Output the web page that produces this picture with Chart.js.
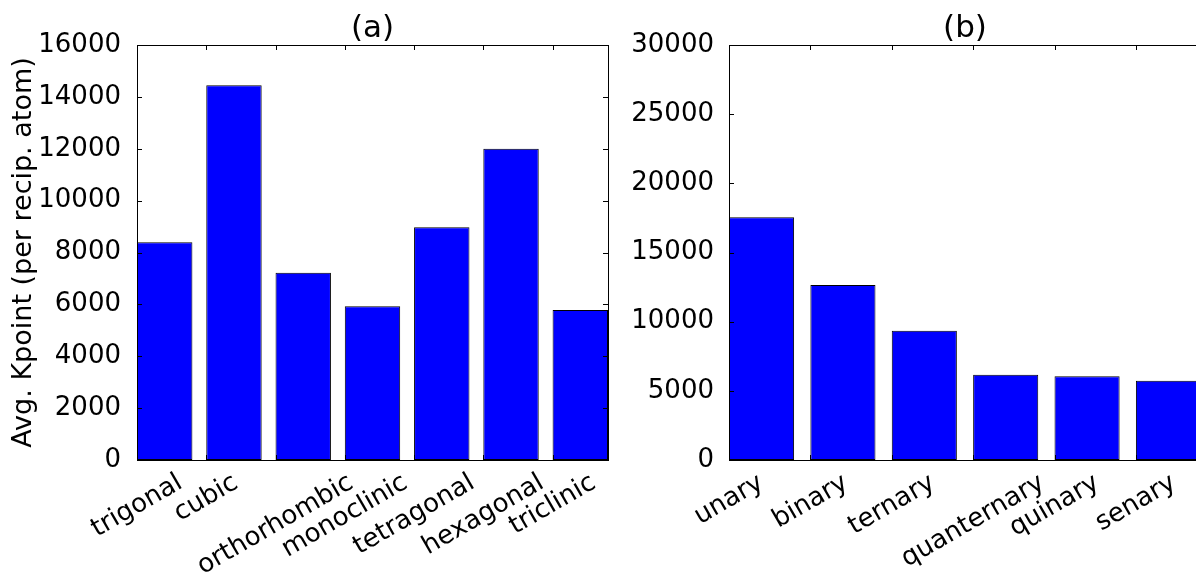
<!DOCTYPE html>
<html>
<head>
<meta charset="utf-8">
<script src="https://cdn.jsdelivr.net/npm/chart.js@4.4.1/dist/chart.umd.min.js"></script>
<style>
  html, body { margin: 0; padding: 0; background: #fff; overflow: hidden; }
  body { width: 1196px; height: 578px; position: relative; }
  canvas { position: absolute; top: 0; }
  #chartA { left: 0; }
  #chartB { left: 615px; }
</style>
</head>
<body>
<canvas id="chartA" width="615" height="578"></canvas>
<canvas id="chartB" width="600" height="578"></canvas>
<script>
// (a) by crystal system
const crystalSystems = ['trigonal', 'cubic', 'orthorhombic', 'monoclinic', 'tetragonal', 'hexagonal', 'triclinic'];
const crystalKpoints = [8400, 14450, 7220, 5930, 8970, 12000, 5780];
const crystalTicks = [0, 2000, 4000, 6000, 8000, 10000, 12000, 14000, 16000];

// (b) by number of components
const componentCounts = ['unary', 'binary', 'ternary', 'quanternary', 'quinary', 'senary'];
const componentKpoints = [17550, 12650, 9350, 6170, 6050, 5730];
const componentTicks = [0, 5000, 10000, 15000, 20000, 25000, 30000];

const FONT = 'DejaVu Sans';
const BAR_WIDTH = 0.8;
const TICK_LEN = 5;

// matplotlib look: closed frame, inward ticks on every side, x labels rotated 30deg and centred on the tick
const mplFrame = {
  id: 'mplFrame',
  afterDraw(chart, args, opts) {
    const { ctx, chartArea: a, scales: { x, y } } = chart;
    ctx.save();
    ctx.strokeStyle = '#000';
    ctx.lineWidth = 1;
    ctx.beginPath();
    opts.categories.forEach((c, i) => {
      const px = Math.round(x.getPixelForValue(i)) + 0.5;
      ctx.moveTo(px, a.top); ctx.lineTo(px, a.top + TICK_LEN);
      ctx.moveTo(px, a.bottom); ctx.lineTo(px, a.bottom - TICK_LEN);
    });
    y.ticks.forEach(t => {
      const py = Math.round(y.getPixelForValue(t.value)) + 0.5;
      ctx.moveTo(a.left, py); ctx.lineTo(a.left + TICK_LEN, py);
      ctx.moveTo(a.right, py); ctx.lineTo(a.right - TICK_LEN, py);
    });
    ctx.stroke();
    ctx.strokeRect(Math.round(a.left) + 0.5, Math.round(a.top) + 0.5,
      Math.round(a.right - a.left), Math.round(a.bottom - a.top));

    ctx.font = '26px "' + FONT + '"';
    ctx.fillStyle = '#000';
    ctx.textAlign = 'center';
    ctx.textBaseline = 'middle';
    const rot = Math.PI / 6;
    const lh = 26 * 1.164;
    opts.categories.forEach((c, i) => {
      const w = ctx.measureText(c).width;
      const boxH = w * Math.sin(rot) + lh * Math.cos(rot);
      ctx.save();
      ctx.translate(x.getPixelForValue(i), a.bottom + 8 + boxH / 2);
      ctx.rotate(-rot);
      ctx.fillText(c, 0, 0);
      ctx.restore();
    });
    ctx.restore();
  }
};

function makeChart(id, categories, values, yTicks, title, yTitle, yWidth, padRight, tickPad) {
  return new Chart(document.getElementById(id), {
    type: 'bar',
    data: {
      datasets: [{
        data: values.map((v, i) => ({ x: i + BAR_WIDTH / 2, y: v })),
        backgroundColor: '#0000ff',
        borderColor: '#000',
        borderWidth: 1,
        borderSkipped: false,
        barPercentage: BAR_WIDTH,
        categoryPercentage: 1
      }]
    },
    options: {
      responsive: false,
      animation: false,
      layout: { padding: { left: 0, right: padRight, top: 0, bottom: 118 } },
      plugins: {
        legend: { display: false },
        tooltip: { enabled: false },
        title: {
          display: true,
          text: title,
          fullSize: false,
          color: '#000',
          font: { family: FONT, size: 31, weight: 'normal', lineHeight: 1 },
          padding: { top: 13, bottom: 1 }
        },
        mplFrame: { categories }
      },
      scales: {
        x: {
          type: 'linear',
          display: false,
          offset: false,
          min: 0,
          max: categories.length - 1 + BAR_WIDTH,
          ticks: { stepSize: 1, includeBounds: false }
        },
        y: {
          min: yTicks[0],
          max: yTicks[yTicks.length - 1],
          afterFit: s => { s.width = yWidth; },
          afterBuildTicks: s => { s.ticks = yTicks.map(v => ({ value: v })); },
          grid: { display: false },
          border: { display: false },
          ticks: {
            color: '#000',
            padding: tickPad,
            font: { family: FONT, size: 26 },
            callback: v => String(v)
          },
          title: {
            display: !!yTitle,
            text: yTitle,
            color: '#000',
            font: { family: FONT, size: 27 },
            padding: { top: 8, bottom: 0 }
          }
        }
      }
    },
    plugins: [mplFrame]
  });
}

makeChart('chartA', crystalSystems, crystalKpoints, crystalTicks, '(a)', 'Avg. Kpoint (per recip. atom)', 137, 7, 8);
makeChart('chartB', componentCounts, componentKpoints, componentTicks, '(b)', '', 114, 14, 7);
</script>
</body>
</html>
